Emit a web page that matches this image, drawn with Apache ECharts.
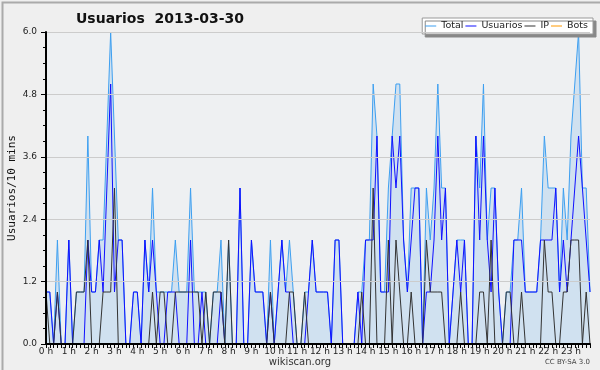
<!DOCTYPE html>
<html>
<head>
<meta charset="utf-8">
<script src="https://cdn.jsdelivr.net/npm/echarts@6/dist/echarts.min.js"></script>
<style>
html,body{margin:0;padding:0;background:#efefef;}
#c{width:600px;height:370px;}
</style>
</head>
<body>
<div id="c"></div>
<script>
// 10-minute slots for one day (00:00 .. 23:50)
var categories = [];
for (var h = 0; h < 24; h++) {
  for (var m = 0; m < 60; m += 10) {
    categories.push((h < 10 ? '0' : '') + h + ':' + (m < 10 ? '0' : '') + m);
  }
}
var hourLabels = ['0 h','1 h','2 h','3 h','4 h','5 h','6 h','7 h','8 h','9 h','10 h','11 h',
  '12 h','13 h','14 h','15 h','16 h','17 h','18 h','19 h','20 h','21 h','22 h','23 h'];
var yTicks = ['0.0','1.2','2.4','3.6','4.8','6.0'];

var total = [
  1,1,0,2,0,0,2,0,1,1, 1,4,1,1,2,2,4,6,4,2,
  2,0,0,1,1,0,2,1,3,1, 1,1,1,1,2,1,1,1,3,1,
  1,1,1,0,1,1,2,0,2,0, 0,3,0,0,2,1,1,1,0,2,
  0,1,2,1,2,1,0,0,1,1, 2,1,1,1,1,0,2,2,0,0,
  0,0,1,1,2,2,5,4,1,1, 3,4,5,5,2,1,3,3,3,0,
  3,2,3,5,3,3,0,1,2,2, 2,0,0,4,3,5,2,3,3,1,
  0,1,1,2,2,3,1,1,1,1, 2,4,3,3,3,1,3,2,4,5,
  6,3,3,1
];
var usuarios = [
  1,1,0,1,0,0,2,0,0,0, 0,2,1,1,2,1,3,5,1,2,
  2,0,0,1,1,0,2,1,2,1, 0,0,1,1,1,0,0,0,2,0,
  0,1,0,0,0,0,1,0,0,0, 0,3,0,0,2,1,1,1,0,1,
  0,1,2,1,1,0,0,0,0,1, 2,1,1,1,1,0,2,2,0,0,
  0,0,1,0,2,2,2,4,1,1, 1,4,3,4,2,1,2,3,3,0,
  1,1,2,4,2,3,0,1,2,1, 2,0,0,4,2,4,2,1,3,1,
  0,0,0,2,2,2,1,1,1,1, 2,2,2,2,3,1,2,1,2,3,
  4,3,2,1
];
var ip = [
  1,0,0,1,0,0,0,0,1,1, 1,2,0,0,0,1,1,1,3,0,
  0,0,0,0,0,0,0,0,1,0, 1,1,0,0,1,1,1,1,1,1,
  1,0,1,0,1,1,1,0,2,0, 0,0,0,0,0,0,0,0,0,1,
  0,0,0,0,1,1,0,0,1,0, 0,0,0,0,0,0,0,0,0,0,
  0,0,0,1,0,0,3,0,0,0, 2,0,2,1,0,0,1,0,0,0,
  2,1,1,1,1,0,0,0,0,1, 0,0,0,0,1,1,0,2,0,0,
  0,1,1,0,0,1,0,0,0,0, 0,2,1,1,0,0,1,1,2,2,
  2,0,1,0
];
var bots = [
  0,0,0,0,0,0,0,0,0,0, 0,0,0,0,0,0,0,0,0,0,
  0,0,0,0,0,0,0,0,0,0, 0,0,0,0,0,0,0,0,0,0,
  0,0,0,0,0,0,0,0,0,0, 0,0,0,0,0,0,0,0,0,0,
  0,0,0,0,0,0,0,0,0,0, 0,0,0,0,0,0,0,0,0,0,
  0,0,0,0,0,0,0,0,0,0, 0,0,0,0,0,0,0,0,0,0,
  0,0,0,0,0,0,0,0,0,0, 0,0,0,0,0,0,0,0,0,0,
  0,0,0,0,0,0,0,0,0,0, 0,0,0,0,0,0,0,0,0,0,
  0,0,0,0
];

var chart = echarts.init(document.getElementById('c'), null, {renderer: 'canvas'});
var font = 'DejaVu Sans';
chart.setOption({
  backgroundColor: '#efefef',
  animation: false,
  title: {
    text: 'Usuarios  2013-03-30',
    left: 71, top: 7,
    textStyle: {fontFamily: font, fontSize: 14, fontWeight: 'bold', color: '#111'}
  },
  legend: {
    right: 7, top: 18,
    padding: [3, 5, 3, 3],
    backgroundColor: '#ffffff',
    borderColor: '#999999', borderWidth: 1,
    shadowColor: '#888888', shadowBlur: 0, shadowOffsetX: 3, shadowOffsetY: 3,
    itemWidth: 11, itemHeight: 1, itemGap: 2,
    icon: 'rect',
    textStyle: {fontFamily: font, fontSize: 9.5, color: '#222'},
    data: ['Total', 'Usuarios', 'IP', 'Bots']
  },
  grid: {left: 46, right: 10, top: 32, bottom: 26, outerBoundsMode: 'none', containLabel: false,
    show: true, backgroundColor: '#eef0f2', borderWidth: 0},
  xAxis: {
    type: 'category',
    data: categories,
    boundaryGap: false,
    z: 10,
    axisLine: {lineStyle: {color: '#000', width: 2}},
    axisTick: {show: true, interval: 0, length: 4, lineStyle: {color: '#000', width: 1}},
    axisLabel: {
      interval: 0,
      margin: 3,
      fontFamily: font, fontSize: 9, color: '#222',
      formatter: function (v, i) { return i % 6 === 0 ? hourLabels[i / 6] : ''; }
    },
    splitLine: {show: false}
  },
  yAxis: {
    type: 'value',
    min: 0, max: 6, interval: 1.2,
    z: 10,
    name: 'Usuarios/10 mins',
    nameLocation: 'middle',
    nameGap: 28,
    nameMoveOverlap: false,
    nameRotate: 90,
    nameTextStyle: {fontFamily: 'DejaVu Sans Mono', fontSize: 11, color: '#111'},
    axisLine: {show: true, lineStyle: {color: '#000', width: 2}},
    axisTick: {show: true, length: 5, lineStyle: {color: '#000'}},
    minorTick: {show: true, splitNumber: 4, length: 3, lineStyle: {color: '#000'}},
    axisLabel: {
      margin: 9, fontFamily: font, fontSize: 9, color: '#222',
      formatter: function (v) { return yTicks[Math.round(v / 1.2)]; }
    },
    splitLine: {show: true, lineStyle: {color: '#cccccc', width: 1}}
  },
  series: [
    {
      name: 'Bots', type: 'line', data: bots, symbol: 'none', z: 1,
      lineStyle: {color: '#ff9900', width: 1}, itemStyle: {color: '#ff9900'}
    },
    {
      name: 'Total', type: 'line', data: total, symbol: 'none', z: 2,
      lineStyle: {color: '#3d9ff0', width: 1}, itemStyle: {color: '#3d9ff0'},
      areaStyle: {color: 'rgba(80,160,235,0.27)'}
    },
    {
      name: 'Usuarios', type: 'line', data: usuarios, symbol: 'none', z: 3,
      lineStyle: {color: '#1010ff', width: 1}, itemStyle: {color: '#1010ff'}
    },
    {
      name: 'IP', type: 'line', data: ip, symbol: 'none', z: 4,
      lineStyle: {color: '#333333', width: 1}, itemStyle: {color: '#333333'}
    }
  ],
  graphic: [
    {type: 'rect', left: 0, top: 0, shape: {width: 599, height: 369}, style: {fill: 'none', stroke: '#aaaaaa', lineWidth: 2}, z: 100},
    {type: 'text', left: 'center', top: 357, style: {text: 'wikiscan.org', font: '10px DejaVu Sans', fill: '#333'}},
    {type: 'text', right: 10, top: 359, style: {text: 'CC BY-SA 3.0', font: '7px DejaVu Sans', fill: '#444'}}
  ]
});
</script>
</body>
</html>
